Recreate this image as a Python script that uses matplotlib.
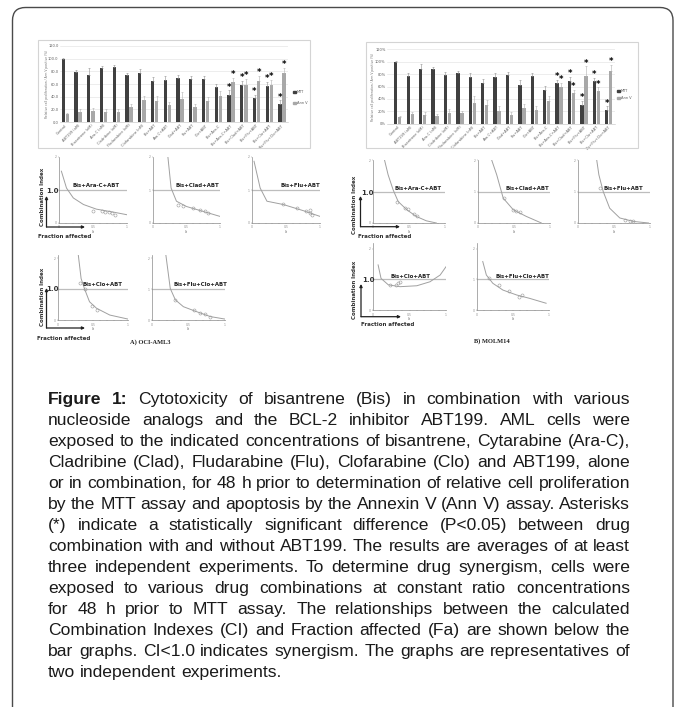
import matplotlib
matplotlib.use("Agg")
import matplotlib.pyplot as plt
from matplotlib.patches import FancyBboxPatch, Rectangle
import numpy as np

W, H = 678, 707

# ---------------- data: bar charts ----------------
cats = ["Control", "ABT199 (nM)", "Bisantrene (nM)", "Ara-C (nM)", "Cladribine (nM)",
        "Fludarabine (nM)", "Clofarabine (nM)", "Bis+ABT", "Ara-C+ABT", "Clad+ABT",
        "Flu+ABT", "Clo+ABT", "Bis+Ara-C", "Bis+Ara-C+ABT", "Bis+Clad+ABT",
        "Bis+Flu+ABT", "Bis+Clo+ABT", "Bis+Flu+Clo+ABT"]

a_mtt = [99, 79, 74.7, 86, 87, 74, 77, 65.5, 67, 69, 68, 67.5, 55, 42, 58, 38.5, 57, 29]
a_mtt_err = [2, 3, 10, 3, 3, 4, 7, 5, 5, 5, 5, 5, 5, 8, 7, 4, 6, 5]
a_ann = [12.4, 15.5, 17.5, 15.5, 15.5, 24, 34.5, 33.5, 27, 37, 24, 33, 41, 63, 59, 65.5, 59, 77]
a_ann_err = [2, 5, 5, 5, 5, 4, 7, 8, 5, 10, 5, 6, 8, 7, 9, 7, 8, 9]
a_stars = [13, 14, 15, 16, 17]
a_ticks = ["0.0", "20.0", "40.0", "60.0", "80.0", "100.0", "120.0"]

b_mtt = [100, 77, 89, 89, 78.5, 81, 76, 66, 75, 79, 63, 77, 55, 65, 69, 30, 69, 22]
b_mtt_err = [1, 5, 7, 3, 5, 4, 5, 6, 6, 4, 7, 4, 6, 6, 6, 7, 5, 6]
b_ann = [10.7, 15.6, 14, 12.4, 18, 18, 34, 30, 20, 14, 25, 22.5, 37, 60, 49, 77.5, 52.7, 85]
b_ann_err = [2, 4, 5, 3, 6, 3, 10, 8, 8, 5, 7, 6, 7, 6, 6, 15, 6, 10]
b_stars = [13, 14, 15, 16, 17]
b_ticks = ["0%", "20%", "40%", "60%", "80%", "100%", "120%"]
tick_vals = [0, 20, 40, 60, 80, 100, 120]

# ---------------- data: combination index plots (Fa, CI) ----------------
a1_cx = [0.035, 0.11, 0.21, 0.36, 0.55, 0.80, 1.0]
a1_cy = [1.57, 1.06, 0.76, 0.56, 0.42, 0.33, 0.25]
a1_px = [0.50, 0.63, 0.68, 0.73, 0.78, 0.83]
a1_py = [0.37, 0.35, 0.33, 0.33, 0.31, 0.25]

a2_cx = [0.22, 0.27, 0.35, 0.50, 0.75, 1.0]
a2_cy = [2.05, 1.06, 0.66, 0.50, 0.35, 0.20]
a2_px = [0.37, 0.45, 0.60, 0.70, 0.78, 0.82]
a2_py = [0.55, 0.53, 0.45, 0.40, 0.35, 0.30]

a3_cx = [0.03, 0.12, 0.22, 0.46, 0.76, 1.0]
a3_cy = [1.87, 1.06, 0.66, 0.56, 0.37, 0.20]
a3_px = [0.46, 0.66, 0.80, 0.85, 0.88, 0.85]
a3_py = [0.57, 0.45, 0.35, 0.30, 0.25, 0.40]

a4_cx = [0.29, 0.33, 0.38, 0.45, 0.55, 0.74, 1.0]
a4_cy = [2.1, 1.34, 1.0, 0.59, 0.38, 0.16, 0.03]
a4_px = [0.32, 0.38, 0.48, 0.55]
a4_py = [1.2, 1.0, 0.45, 0.32]

a5_cx = [0.19, 0.25, 0.32, 0.43, 0.61, 0.80, 1.0]
a5_cy = [2.1, 1.02, 0.65, 0.43, 0.27, 0.11, 0.03]
a5_px = [0.32, 0.57, 0.66, 0.73, 0.80]
a5_py = [0.65, 0.32, 0.22, 0.18, 0.11]

b1_cx = [0.16, 0.21, 0.28, 0.35, 0.47, 0.60, 0.74, 0.88]
b1_cy = [2.0, 1.53, 1.05, 0.68, 0.42, 0.21, 0.07, 0.0]
b1_px = [0.33, 0.44, 0.49, 0.57, 0.61]
b1_py = [0.68, 0.49, 0.45, 0.28, 0.21]

b2_cx = [0.19, 0.26, 0.35, 0.49, 0.67, 0.88]
b2_cy = [2.0, 1.53, 0.79, 0.42, 0.21, 0.0]
b2_px = [0.36, 0.49, 0.53, 0.58]
b2_py = [0.79, 0.42, 0.37, 0.35]

b3_cx = [0.26, 0.29, 0.35, 0.44, 0.58, 0.77, 0.98]
b3_cy = [2.0, 1.53, 1.0, 0.47, 0.16, 0.05, 0.0]
b3_px = [0.31, 0.65, 0.72, 0.76]
b3_py = [1.1, 0.10, 0.07, 0.05]

b4_cx = [0.07, 0.11, 0.21, 0.37, 0.60, 0.78, 0.92, 1.0]
b4_cy = [1.47, 1.03, 0.82, 0.76, 0.79, 0.92, 1.14, 1.41]
b4_px = [0.23, 0.32, 0.34, 0.37]
b4_py = [0.82, 0.80, 0.87, 0.92]

b5_cx = [0.08, 0.13, 0.22, 0.36, 0.55, 0.73, 0.96]
b5_cy = [1.58, 1.14, 0.87, 0.65, 0.49, 0.38, 0.22]
b5_px = [0.17, 0.30, 0.45, 0.59, 0.62]
b5_py = [1.03, 0.82, 0.63, 0.43, 0.49]

caption_lines = [
    "Figure 1: Cytotoxicity of bisantrene (Bis) in combination with various",
    "nucleoside analogs and the BCL-2 inhibitor ABT199.  AML cells were",
    "exposed to the indicated concentrations of bisantrene, Cytarabine (Ara-C),",
    "Cladribine (Clad), Fludarabine (Flu), Clofarabine (Clo) and ABT199, alone",
    "or in combination, for 48 h prior to determination of relative cell proliferation",
    "by the MTT assay and apoptosis by the Annexin V (Ann V) assay. Asterisks",
    "(*) indicate a statistically significant difference (P<0.05) between drug",
    "combination with and without ABT199. The results are averages of at least",
    "three independent experiments. To determine drug synergism, cells were",
    "exposed to various drug combinations at constant ratio concentrations",
    "for 48 h prior to MTT assay. The relationships between the calculated",
    "Combination Indexes (CI) and Fraction affected (Fa) are shown below the",
    "bar graphs. CI<1.0 indicates synergism. The graphs are representatives of",
    "two independent experiments.",
]

# ---------------- figure ----------------
fig = plt.figure(figsize=(W / 100, H / 100), dpi=100)
fig.patch.set_facecolor("white")


def add_ax(x0, y0, x1, y1):
    return fig.add_axes([x0 / W, 1 - y1 / H, (x1 - x0) / W, (y1 - y0) / H])


DARK = "#404040"
LIGHT = "#a8a8a8"


def bar_panel(frame, left, right, top, bottom, c0, pitch, mtt, mtt_err, ann, ann_err,
              stars, ticks, ylab_x, leg_x, leg_y):
    ov.add_patch(Rectangle((frame[0], frame[1]), frame[2] - frame[0], frame[3] - frame[1],
                           fill=False, ec="#d4d4d4", lw=0.8))
    ax = add_ax(left, top, right, bottom)
    ax.set_facecolor("none")
    ax.set_xlim((left - c0) / pitch, (right - c0) / pitch)
    ax.set_ylim(0, 120)
    x = np.arange(len(mtt))
    ax.bar(x - 0.16, mtt, 0.27, color=DARK, zorder=3)
    ax.bar(x + 0.16, ann, 0.27, color=LIGHT, zorder=3)
    ax.errorbar(x - 0.16, mtt, yerr=[np.zeros(len(mtt)), mtt_err], fmt="none",
                ecolor="#909090", elinewidth=0.4, capsize=0.8, capthick=0.4, zorder=4)
    ax.errorbar(x + 0.16, ann, yerr=[np.zeros(len(ann)), ann_err], fmt="none",
                ecolor="#b0b0b0", elinewidth=0.4, capsize=0.8, capthick=0.4, zorder=4)
    for i in stars:
        ax.text(i - 0.16, mtt[i] + mtt_err[i] - 2, "*", ha="center", va="bottom",
                fontsize=6, fontweight="bold", color="black", zorder=5)
        ax.text(i + 0.16, ann[i] + ann_err[i] - 2, "*", ha="center", va="bottom",
                fontsize=6, fontweight="bold", color="black", zorder=5)
    ax.set_yticks(tick_vals)
    ax.set_yticklabels(ticks)
    ax.yaxis.grid(True, color="#e0e0e0", lw=0.4)
    ax.set_axisbelow(True)
    ax.set_xticks(x)
    ax.set_xticklabels(cats, rotation=45, ha="right", rotation_mode="anchor")
    ax.tick_params(axis="both", length=0, labelsize=2.6, colors="#606060", pad=1)
    for s in ax.spines.values():
        s.set_visible(False)
    ax.spines["bottom"].set_visible(True)
    ax.spines["bottom"].set_color("#c0c0c0")
    ax.spines["bottom"].set_linewidth(0.4)
    ov.text(ylab_x, (top + bottom) / 2, "Relative cell proliferation / Ann V positive (%)",
            rotation=90, fontsize=2.2, color="#707070", ha="center", va="center")
    ov.add_patch(Rectangle((leg_x, leg_y[0] - 1.3), 2.6, 2.6, color=DARK))
    ov.text(leg_x + 4, leg_y[0], "MTT", fontsize=2.6, color="#606060", va="center")
    ov.add_patch(Rectangle((leg_x, leg_y[1] - 1.3), 2.6, 2.6, color=LIGHT))
    ov.text(leg_x + 4, leg_y[1], "Ann V", fontsize=2.6, color="#606060", va="center")


def ci_panel(x0, x1, y0, y1, ymax, title, tx, ty, cx, cy, px, py, first=False):
    ax = add_ax(x0, y0, x1, y1)
    ax.set_facecolor("none")
    ax.set_xlim(0, 1)
    ax.set_ylim(0, ymax)
    ax.axhline(1.0, color="#bdbdbd", lw=0.9)
    ax.plot(cx, cy, color="#a0a0a0", lw=0.7, clip_on=True)
    ax.plot(px, py, "o", mfc="none", mec="#9a9a9a", ms=2.2, mew=0.4)
    for s in ["top", "right"]:
        ax.spines[s].set_visible(False)
    for s in ["left", "bottom"]:
        ax.spines[s].set_color("#8a8a8a")
        ax.spines[s].set_linewidth(0.5)
    ax.set_xticks([0, 0.5, 1])
    ax.set_xticklabels(["0", "0.5", "1"])
    ax.set_xticks(np.arange(0, 1.01, 0.1), minor=True)
    ax.set_yticks([0, 1, 2])
    ax.set_yticklabels(["0", "" if first else "1", "2"])
    ax.tick_params(axis="both", which="both", length=1, width=0.3, labelsize=2.2,
                   colors="#8a8a8a", pad=0.8)
    ax.set_xlabel("Fa", fontsize=2.2, color="#8a8a8a", labelpad=0.1)
    ov.text(tx, ty, title, fontsize=3.9, fontweight="bold", color="#202020",
            ha="center", va="center")


def side_labels(lab_x, lab_y, one_x, one_y, arr_x, arr_y0, arr_y1, arr_x1, fa_x, fa_y):
    ov.text(lab_x, lab_y, "Combination Index", rotation=90, fontsize=4.0,
            fontweight="bold", color="#303030", ha="center", va="center")
    ov.text(one_x, one_y, "1.0", fontsize=5.0, fontweight="bold", color="#303030",
            ha="center", va="center")
    ov.annotate("", xy=(arr_x, arr_y1), xytext=(arr_x, arr_y0),
                arrowprops=dict(arrowstyle="-|>", lw=0.9, color="#202020",
                                mutation_scale=4, shrinkA=0, shrinkB=0))
    ov.annotate("", xy=(arr_x1, arr_y0), xytext=(arr_x, arr_y0),
                arrowprops=dict(arrowstyle="-|>", lw=0.9, color="#202020",
                                mutation_scale=4, shrinkA=0, shrinkB=0))
    ov.text(fa_x, fa_y, "Fraction affected", fontsize=4.0, fontweight="bold",
            color="#303030", ha="center", va="center")


# overlay axes in pixel coordinates
ov = fig.add_axes([0, 0, 1, 1], zorder=10)
ov.set_xlim(0, W)
ov.set_ylim(H, 0)
ov.axis("off")
ov.set_facecolor("none")

# outer rounded border (open at the bottom)
ov.add_patch(FancyBboxPatch((12.5, 7.5), 660.5, 740, boxstyle="round,pad=0,rounding_size=13",
                            fill=False, ec="#4a4a4a", lw=1.0, clip_on=True))

# bar charts
bar_panel((38, 40, 310, 148), 60, 288, 46, 122, 65.3, 12.75,
          a_mtt, a_mtt_err, a_ann, a_ann_err, a_stars, a_ticks, 47, 293, (92, 103))
bar_panel((366, 42, 638, 148), 387, 615, 49.3, 123.7, 397.8, 12.41,
          b_mtt, b_mtt_err, b_ann, b_ann_err, b_stars, b_ticks, 373, 617, (91, 98))

# CI plots - A) OCI-AML3
ci_panel(59, 127, 157, 223, 2.0, "Bis+Ara-C+ABT", 96, 185.7, a1_cx, a1_cy, a1_px, a1_py, True)
ci_panel(153, 220, 157, 223, 2.0, "Bis+Clad+ABT", 197, 185.7, a2_cx, a2_cy, a2_px, a2_py)
ci_panel(252, 320, 157, 223, 2.0, "Bis+Flu+ABT", 300, 185.7, a3_cx, a3_cy, a3_px, a3_py)
ci_panel(58, 128, 255, 320, 2.1, "Bis+Clo+ABT", 102, 284, a4_cx, a4_cy, a4_px, a4_py, True)
ci_panel(152, 225, 255, 320, 2.1, "Bis+Flu+Clo+ABT", 200, 284, a5_cx, a5_cy, a5_px, a5_py)

# CI plots - B) MOLM14
ci_panel(373, 445, 160, 223, 2.0, "Bis+Ara-C+ABT", 418, 188.3, b1_cx, b1_cy, b1_px, b1_py, True)
ci_panel(478, 550, 160, 223, 2.0, "Bis+Clad+ABT", 527, 188.3, b2_cx, b2_cy, b2_px, b2_py)
ci_panel(578, 650, 160, 223, 2.0, "Bis+Flu+ABT", 623, 188.3, b3_cx, b3_cy, b3_px, b3_py)
ci_panel(373, 446, 242.5, 310, 2.2, "Bis+Clo+ABT", 410, 276.7, b4_cx, b4_cy, b4_px, b4_py, True)
ci_panel(477, 549, 242.5, 310, 2.2, "Bis+Flu+Clo+ABT", 522, 276.7, b5_cx, b5_cy, b5_px, b5_py)

# side annotations
side_labels(42, 197, 52, 191, 46.5, 227, 196, 85, 65, 236)
side_labels(43, 297, 52, 289, 46.5, 328, 288, 85, 64, 339)
side_labels(355, 205, 367, 193, 360.5, 226.7, 196, 400, 385, 236)
side_labels(355, 290, 368, 280, 361, 316.7, 284, 401, 388, 325)

ov.text(150, 342, "A) OCI-AML3", fontsize=4.6, fontweight="bold", family="Liberation Serif",
        color="#202020", ha="center", va="center")
ov.text(492, 341, "B) MOLM14", fontsize=4.6, fontweight="bold", family="Liberation Serif",
        color="#202020", ha="center", va="center")

# ---------------- justified caption ----------------
renderer = fig.canvas.get_renderer()
L, R = 48, 630
base0, step = 404, 21

# pick the font size so the longest (tightly set) line just fills the column
probe = ov.text(0, 0, caption_lines[4], fontsize=12, family="Liberation Sans")
FS = 12 * (R - L) / probe.get_window_extent(renderer).width
probe.remove()

probe1 = ov.text(0, 0, "a a", fontsize=FS, family="Liberation Sans")
probe2 = ov.text(0, 0, "aa", fontsize=FS, family="Liberation Sans")
space_w = (probe1.get_window_extent(renderer).width -
           probe2.get_window_extent(renderer).width)
probe1.remove()
probe2.remove()

for k, line in enumerate(caption_lines):
    words = line.split()
    y = base0 + step * k
    texts = []
    for j, w in enumerate(words):
        bold = (k == 0 and j < 2)
        t = ov.text(0, y, w, fontsize=FS, family="Liberation Sans",
                    fontweight="bold" if bold else "normal", color="#1a1a1a",
                    ha="left", va="baseline")
        texts.append(t)
    widths = [t.get_window_extent(renderer).width for t in texts]
    if k == len(caption_lines) - 1:
        gap = space_w
    else:
        gap = (R - L - sum(widths)) / (len(words) - 1)
    x = L
    for t, wd in zip(texts, widths):
        t.set_x(x)
        x += wd + gap

fig.savefig("out.png", dpi=100, facecolor="white")
